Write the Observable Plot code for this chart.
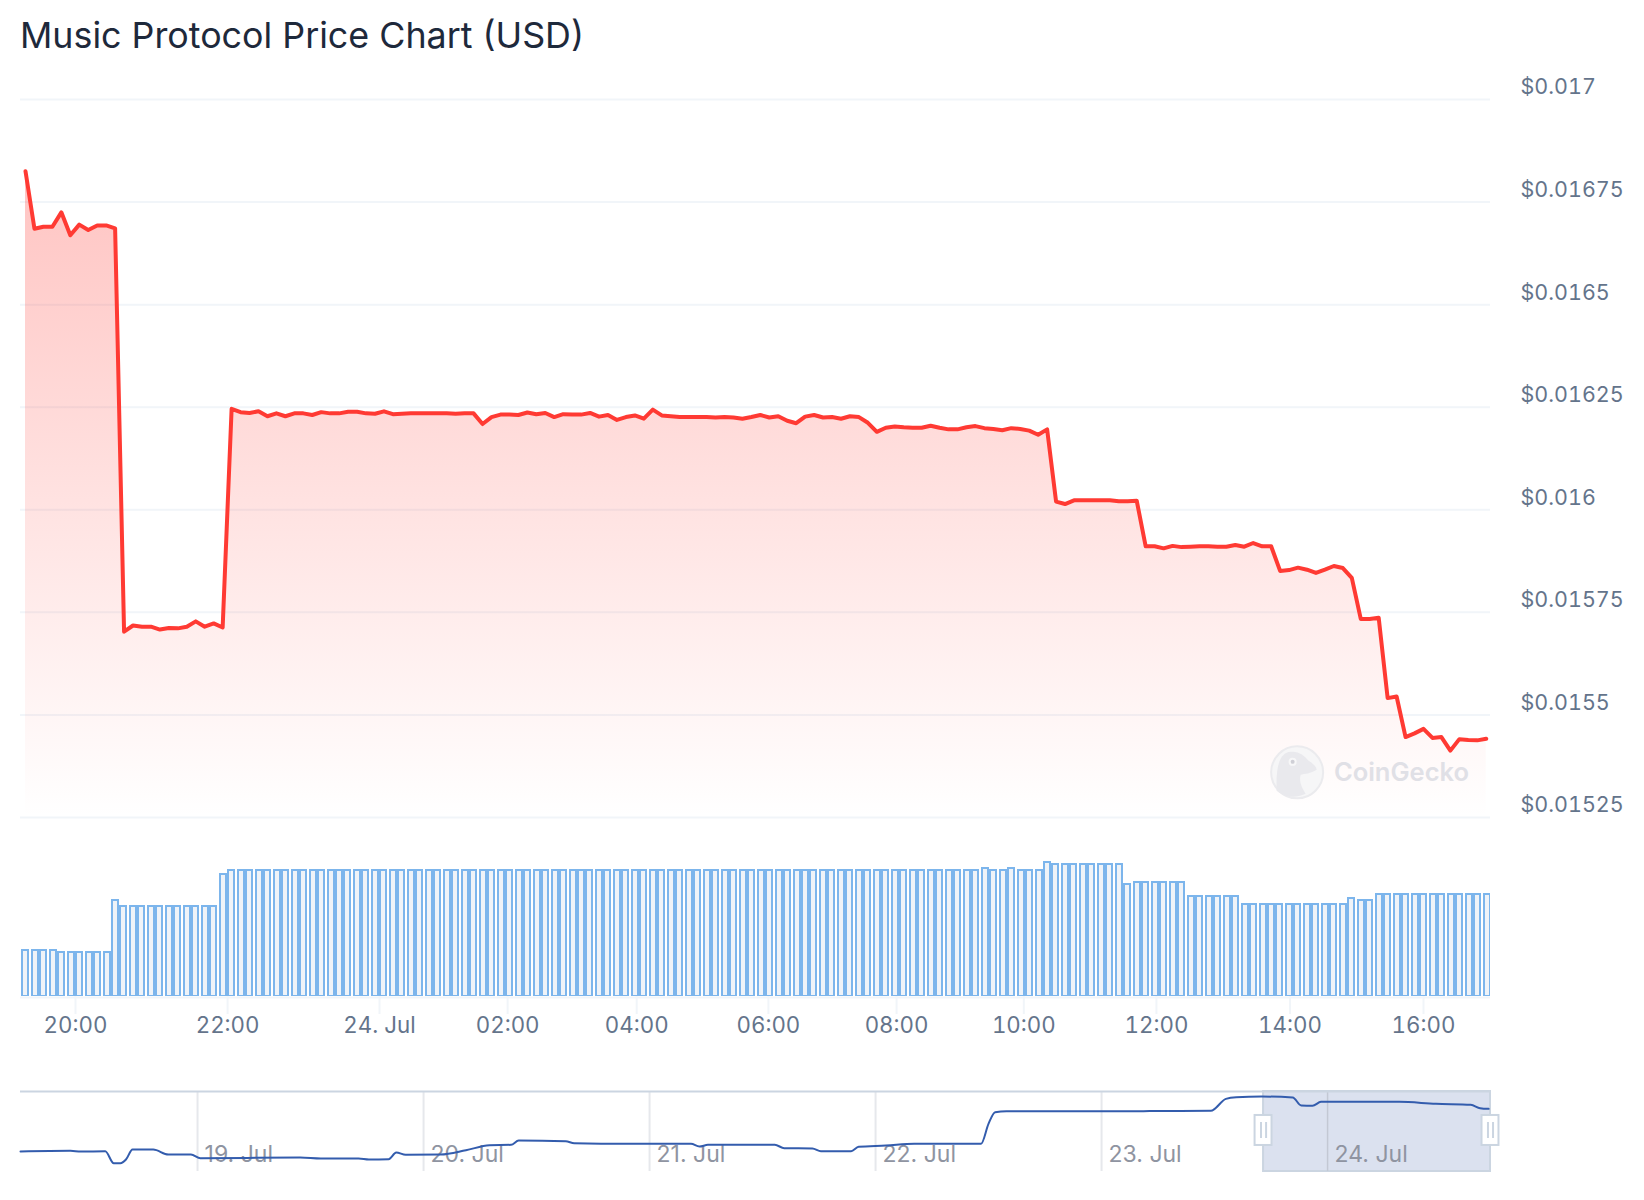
<!DOCTYPE html>
<html>
<head>
<meta charset="utf-8">
<script src="https://cdn.jsdelivr.net/npm/d3@7"></script>
<script src="https://cdn.jsdelivr.net/npm/@observablehq/plot@0.6"></script>
<style>
  html, body { margin: 0; padding: 0; background: #fff; }
  body { width: 1644px; height: 1200px; overflow: hidden; font-family: Inter, sans-serif; }
  #title { height: 78px; box-sizing: border-box; padding: 14px 0 0 20px; font: 400 35.8px/42px Inter, sans-serif; color: #1e293b; }
  svg { display: block; overflow: visible; }
</style>
</head>
<body>
<div id="title">Music Protocol Price Chart (USD)</div>
<div id="chart"></div>
<script>
const price = [
  0.016825,0.016685,0.016690,0.016690,0.016725,0.016669,0.016695,0.016682,0.016693,0.016693,0.016686,
  0.015703,0.015718,0.015715,0.015715,0.015708,0.015712,0.015711,0.015715,0.015728,0.015715,0.015723,0.015713,
  0.016246,0.016238,0.016236,0.016240,0.016228,0.016235,0.016228,0.016235,0.016235,0.016231,0.016238,0.016235,
  0.016235,0.016239,0.016239,0.016235,0.016234,0.016240,0.016233,0.016234,0.016235,0.016235,0.016235,0.016235,
  0.016235,0.016234,0.016235,0.016235,0.016209,0.016226,0.016232,0.016232,0.016231,0.016237,0.016233,0.016236,
  0.016226,0.016233,0.016232,0.016232,0.016236,0.016227,0.016231,0.016219,0.016226,0.016230,0.016222,0.016244,
  0.016230,0.016228,0.016226,0.016226,0.016226,0.016226,0.016225,0.016226,0.016225,0.016222,0.016226,0.016231,
  0.016225,0.016228,0.016217,0.016211,0.016227,0.016231,0.016225,0.016226,0.016222,0.016228,0.016226,0.016212,
  0.016190,0.016200,0.016203,0.016201,0.016200,0.016200,0.016205,0.016200,0.016196,0.016196,0.016201,0.016204,
  0.016199,0.016197,0.016194,0.016199,0.016197,0.016193,0.016183,0.016196,
  0.016020,0.016014,0.016023,0.016023,0.016023,0.016023,0.016023,0.016021,0.016021,0.016022,
  0.015911,0.015911,0.015906,0.015912,0.015909,0.015910,0.015911,0.015911,0.015910,0.015910,0.015914,0.015910,
  0.015919,0.015911,0.015911,
  0.015851,0.015853,0.015859,0.015854,0.015846,0.015854,0.015863,0.015858,0.015834,
  0.015734,0.015734,0.015737,0.015541,0.015545,
  0.015446,0.015455,0.015466,0.015444,0.015446,0.015413,0.015441,0.015439,0.015438,0.015442
];
const volume = [
  47,47,47,47,45,45,45,45,45,45,97,
  91,91,91,91,91,91,91,91,91,91,91,123,
  127,127,127,127,127,127,127,127,127,127,127,127,127,127,127,127,127,127,127,127,127,
  127,127,127,127,127,127,127,127,127,127,127,127,127,127,127,127,127,127,127,127,127,
  127,127,127,127,127,127,127,127,127,127,127,127,127,127,127,127,127,127,127,127,127,
  127,127,127,127,127,127,127,127,127,127,127,127,127,127,127,127,127,127,127,127,127,
  129,127,127,129,127,127,127,135,
  133,133,133,133,133,133,133,133,113,
  115,115,115,115,115,115,
  101,101,101,101,101,101,
  93,93,93,93,93,93,93,93,93,93,93,93,
  99,97,97,
  103,103,103,103,103,103,103,103,103,103,103,103,103
];
const yTicks  = [0.017,0.01675,0.0165,0.01625,0.016,0.01575,0.0155,0.01525];
const yLabels = ["$0.017","$0.01675","$0.0165","$0.01625","$0.016","$0.01575","$0.0155","$0.01525"];
const timeTicks  = [5.58,22.55,39.5,53.8,68.2,82.9,97.2,111.4,126.2,141.1,156];
const timeLabels = ["20:00","22:00","24. Jul","02:00","04:00","06:00","08:00","10:00","12:00","14:00","16:00"];

// navigator series: hours after 19 Jul 00:00, and price
const navHours = [-18.8,-13.5,-12.4,-9.8,-8.9,-8.2,-7.6,-6.9,-4.7,-3.1,-0.7,0.3,10.9,13.1,17.1,18.2,20.3,21.1,22.1,25.8,28.5,31,33.3,34.1,39.1,40,45.7,52.4,53.3,54.2,61.3,62.3,65.3,66.2,69.4,70.2,73.1,76.1,83.2,84,84.7,85.9,99.5,101.1,107.6,109.2,110.3,113,116.3,117.2,118.4,119.3,127.6,131.5,135.2,136.2,137.1];
const navPrice = [0.01023,0.01031,0.01023,0.01026,0.00881,0.00881,0.00926,0.01047,0.01047,0.00986,0.00986,0.00942,0.0095,0.00938,0.00938,0.00926,0.0093,0.01011,0.00983,0.00986,0.01038,0.01099,0.01104,0.01156,0.01147,0.01123,0.01116,0.01116,0.01083,0.01104,0.01104,0.01063,0.01059,0.01026,0.01026,0.0108,0.01095,0.01116,0.01116,0.01361,0.01498,0.0151,0.0151,0.01512,0.01515,0.0166,0.0168,0.01688,0.01676,0.01579,0.01576,0.01624,0.01624,0.016,0.01588,0.01547,0.01539];
const navTicks  = [0,24,48,72,96,120];
const navLabels = ["19. Jul","20. Jul","21. Jul","22. Jul","23. Jul","24. Jul"];
const navWindow = [113.2,137.3];

const W = 1644, ML = 20, MR = 154;
const STEP = 8.9615;                          // px per sample in the original layout
const xDomain = [-5 / STEP, 1465 / STEP];     // sample index range shown
const rows = price.map((p, i) => ({i, p, v: volume[i]}));
const snap = i => Math.round(i * STEP / 2 + 0.19) * 2;  // the original draws bars on a 2px grid
const grid = "#f1f5f9", tick = "#64748b", edge = "#cbd5e1";
const yMin = yTicks[yTicks.length - 1], yMax = yTicks[0];

const gradient = () => {
  const defs = d3.create("svg:defs");
  const g = defs.append("linearGradient").attr("id", "fade").attr("x1", 0).attr("y1", 0).attr("x2", 0).attr("y2", 1);
  g.append("stop").attr("offset", 0).attr("stop-color", "#ff3a33").attr("stop-opacity", 0.3);
  g.append("stop").attr("offset", 1).attr("stop-color", "#ff3a33").attr("stop-opacity", 0);
  return defs.node();
};
const gecko = (index, {x, y}) => {
  const cx = x(141.9), cy = y(0.01536);
  const g = d3.create("svg:g").attr("transform", `translate(${cx},${cy})`);
  g.append("path").attr("fill", "#e9e9ed")
    .attr("d", "M-20 19C-21 -6 -17 -19 -6 -20C2 -21 8 -16 12 -11C17 -8 20 -5 20 -2C14 2 8 2 4 3C2 10 6 17 9 22C-2 27 -13 25 -20 19Z");
  g.append("circle").attr("cx", -4).attr("cy", -10).attr("r", 4).attr("fill", "#f7f7f8");
  g.append("circle").attr("cx", -4).attr("cy", -10).attr("r", 2).attr("fill", "#cfcfd6");
  return g.node();
};

const main = Plot.plot({
  width: W, height: 752, marginLeft: ML, marginRight: MR, marginTop: 21, marginBottom: 13,
  style: {fontFamily: "Inter, sans-serif", background: "transparent", overflow: "visible"},
  x: {domain: xDomain, axis: null},
  y: {domain: [yMin, yMax], axis: null},
  marks: [
    gradient,
    Plot.ruleY(yTicks, {stroke: grid, strokeWidth: 2}),
    Plot.areaY(rows, {x: "i", y1: () => yMin, y2: "p", fill: "url(#fade)"}),
    Plot.dot([0.01536], {x: () => 141.9, y: d => d, r: 26, fill: "#f6f6f7", stroke: "#ebebee", strokeWidth: 2}),
    gecko,
    Plot.text(["CoinGecko"], {x: () => 146, y: () => 0.01536, text: d => d, textAnchor: "start", fontSize: 25.5, fontWeight: 600, fill: "#e0e0e6"}),
    Plot.line(rows, {x: "i", y: "p", stroke: "#ff3a33", strokeWidth: 4, strokeLinejoin: "round", strokeLinecap: "round"}),
    Plot.axisY({anchor: "right", ticks: yTicks, tickFormat: d => yLabels[yTicks.indexOf(d)], tickSize: 0, tickPadding: 30, dy: -12, fontSize: 21.5, fill: tick, label: null})
  ]
});

const vol = Plot.plot({
  width: W, height: 220, marginLeft: ML, marginRight: MR, marginTop: 10, marginBottom: 54,
  style: {fontFamily: "Inter, sans-serif", background: "transparent", overflow: "visible"},
  x: {domain: xDomain, axis: null},
  y: {domain: [0, 156], axis: null},
  marks: [
    Plot.rectY(rows, {
      x1: d => (snap(d.i) - 4) / STEP, x2: d => (snap(d.i) + 4) / STEP, y1: () => 0, y2: "v",
      fill: "#eff3f8", stroke: "#7cb5ec", strokeWidth: 2, insetLeft: 1, insetRight: 1, insetTop: 1, clip: true
    }),
    Plot.ruleY([0], {stroke: grid, strokeWidth: 2, dy: 1}),
    Plot.axisX({ticks: timeTicks, tickFormat: d => timeLabels[timeTicks.indexOf(d)], tickSize: 18, tickPadding: 3, stroke: grid, strokeWidth: 2, fill: tick, fontSize: 22.3, label: null})
  ]
});

const nav = Plot.plot({
  width: W, height: 130, marginLeft: ML, marginRight: MR, marginTop: 41, marginBottom: 9,
  style: {fontFamily: "Inter, sans-serif", background: "transparent", overflow: "visible"},
  x: {domain: [-18.8, 137.3], axis: null},
  y: {domain: [0.00781, 0.01749], axis: null},
  marks: [
    Plot.rect([navWindow], {x1: d => d[0], x2: d => d[1], y1: () => 0.00781, y2: () => 0.01749, fill: "#dbe1ef", stroke: edge, strokeWidth: 2}),
    Plot.ruleX(navTicks.slice(0, 5), {stroke: "#e6e8ec", strokeWidth: 2}),
    Plot.ruleX(navTicks.slice(5), {stroke: "#c3c8d4", strokeWidth: 1.5}),
    Plot.ruleY([0.01749], {stroke: edge, strokeWidth: 2}),
    Plot.text(navTicks, {x: d => d, y: () => 0.00984, text: (d, i) => navLabels[i], textAnchor: "start", dx: 7, fontSize: 23, fill: "#8f94a1"}),
    Plot.line(navHours.map((h, i) => ({h, p: navPrice[i]})), {x: "h", y: "p", stroke: "#335cad", strokeWidth: 2, curve: "monotone-x"}),
    Plot.rect(navWindow, {x1: d => d - 0.9, x2: d => d + 0.9, y1: () => 0.01096, y2: () => 0.01459, fill: "#fff", stroke: edge, strokeWidth: 2}),
    Plot.ruleX(navWindow, {x: d => d - 0.27, y1: () => 0.0118, y2: () => 0.01374, stroke: edge, strokeWidth: 2}),
    Plot.ruleX(navWindow, {x: d => d + 0.27, y1: () => 0.0118, y2: () => 0.01374, stroke: edge, strokeWidth: 2})
  ]
});

const host = document.getElementById("chart");
host.append(main, vol, nav);
</script>
</body>
</html>
